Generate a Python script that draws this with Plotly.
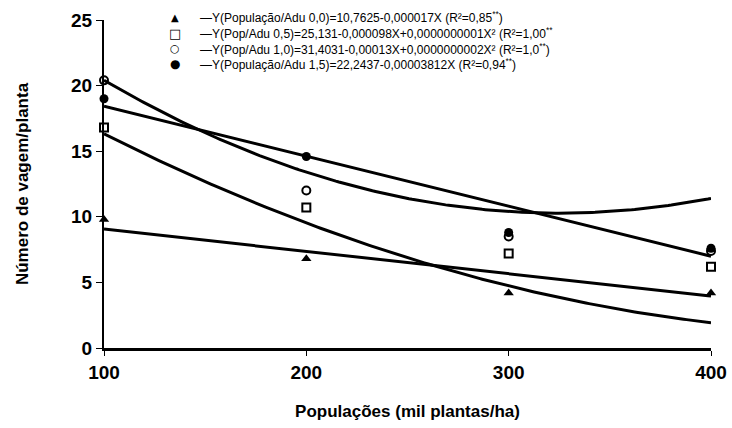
import numpy as np
import plotly.graph_objects as go

# Populações (mil plantas/ha)
pop = [100, 200, 300, 400]

# Número de vagem/planta observado por dose de adubação
adu_00 = [9.8, 6.8, 4.2, 4.2]
adu_05 = [16.8, 10.7, 7.2, 6.2]
adu_10 = [20.4, 12.0, 8.5, 7.4]
adu_15 = [19.0, 14.6, 8.8, 7.6]

# Coeficientes das regressões (a, b, c) com X em plantas/ha: Y = a + bX + cX²
coef_00 = [10.7625, -0.000017, 0.0]
coef_05 = [25.131, -0.000098, 0.0000000001]
coef_10 = [31.4031, -0.00013, 0.0000000002]
coef_15 = [22.2437, -0.00003812, 0.0]

legend_labels = [
    "—Y(População/Adu 0,0)=10,7625-0,000017X (R²=0,85<sup>**</sup>)",
    "—Y(Pop/Adu 0,5)=25,131-0,000098X+0,0000000001X² (R²=1,00<sup>**</sup>",
    "—Y(Pop/Adu 1,0)=31,4031-0,00013X+0,0000000002X² (R²=1,0<sup>**</sup>)",
    "—Y(População/Adu 1,5)=22,2437-0,00003812X (R²=0,94<sup>**</sup>)",
]
legend_glyphs = ["▲", "□", "○", "●"]
legend_glyph_sizes = [10, 13, 11, 12]

FONT = "Liberation Sans, Arial, sans-serif"

series = [
    (adu_00, coef_00, dict(symbol="triangle-up", size=9, color="black")),
    (adu_05, coef_05, dict(symbol="square-open", size=8, color="black", line=dict(width=2))),
    (adu_10, coef_10, dict(symbol="circle-open", size=8, color="black", line=dict(width=2))),
    (adu_15, coef_15, dict(symbol="circle", size=9, color="black")),
]

xs = np.linspace(pop[0], pop[-1], 200)

fig = go.Figure()

# Curvas ajustadas
for _, coef, _ in series:
    X = xs * 1000.0
    ys = coef[0] + coef[1] * X + coef[2] * X ** 2
    fig.add_trace(go.Scatter(
        x=xs, y=ys, mode="lines",
        line=dict(color="black", width=3),
        showlegend=False, hoverinfo="skip",
    ))

# Médias observadas
for (vals, _, mk), label in zip(series, legend_labels):
    fig.add_trace(go.Scatter(
        x=pop, y=vals, mode="markers", marker=mk,
        name=label, cliponaxis=False, showlegend=False,
    ))

# Legenda compacta: símbolo + equação em cada linha
W, H = 732, 428
M_L, M_R, M_T, M_B = 104, 21, 20, 80
plot_w = W - M_L - M_R
plot_h = H - M_T - M_B


def px_to_paper(px, py):
    return (px - M_L) / plot_w, (H - M_B - py) / plot_h


row_y = [17, 33, 49, 64]
for glyph, gsize, label, py in zip(legend_glyphs, legend_glyph_sizes, legend_labels, row_y):
    gx, gy = px_to_paper(175, py)
    tx, _ = px_to_paper(198, py)
    fig.add_annotation(x=gx, y=gy, xref="paper", yref="paper", text=glyph,
                       showarrow=False, xanchor="center", yanchor="middle",
                       font=dict(size=gsize, family="DejaVu Sans", color="black"))
    fig.add_annotation(x=tx, y=gy, xref="paper", yref="paper", text=label,
                       showarrow=False, xanchor="left", yanchor="middle",
                       font=dict(size=12, family=FONT, color="black"))

fig.update_layout(
    width=W, height=H,
    margin=dict(l=M_L, r=M_R, t=M_T, b=M_B),
    paper_bgcolor="white", plot_bgcolor="white",
    font=dict(family=FONT, color="black"),
    showlegend=False,
    xaxis=dict(
        range=[100, 400], tickvals=pop, ticktext=[str(v) for v in pop],
        showgrid=False, zeroline=False, automargin=False,
        showline=True, linecolor="black", linewidth=3,
        ticks="outside", ticklen=5, tickwidth=1, tickcolor="black",
        tickfont=dict(size=19, weight="bold", family=FONT),
        title=dict(text="Populações (mil plantas/ha)",
                   font=dict(size=17, weight="bold", family=FONT), standoff=24),
    ),
    yaxis=dict(
        range=[0, 25], tickvals=[0, 5, 10, 15, 20, 25],
        showgrid=False, zeroline=False, automargin=False,
        showline=True, linecolor="black", linewidth=2,
        ticks="outside", ticklen=6, tickwidth=1, tickcolor="black",
        tickfont=dict(size=19, weight="bold", family=FONT),
        title=dict(text="Número de vagem/planta",
                   font=dict(size=17, weight="bold", family=FONT), standoff=38),
    ),
)

fig.write_html("out.html")
